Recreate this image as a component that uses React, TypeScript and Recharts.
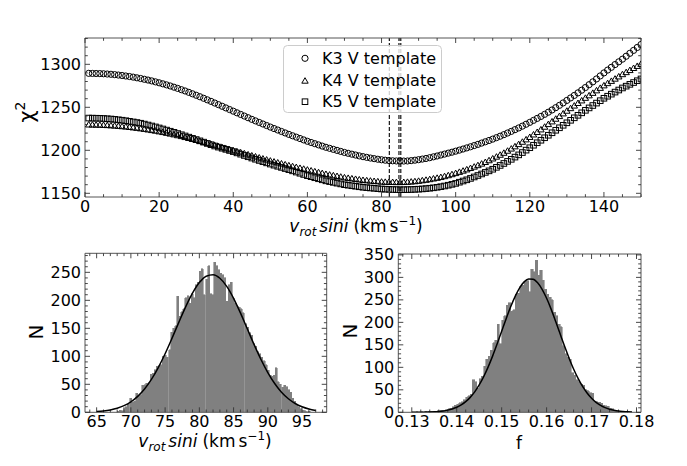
import React from "react";
import {
  ScatterChart,
  Scatter,
  BarChart,
  Bar,
  LineChart,
  Line,
  XAxis,
  YAxis,
  ReferenceLine,
} from "recharts";

const W = 687;
const H = 466;
const FONT = "DejaVu Sans, Verdana, sans-serif";
const INK = "#333";

// chi-square against v sin i, one point per km/s
const VSINI = Array.from({ length: 150 }, (_, i) => i + 1);
const CHI_K3 = [
  1289.5, 1289.4, 1289.3, 1289.2, 1289.0, 1288.7, 1288.4, 1288.0, 1287.5, 1287.0,
  1286.4, 1285.8, 1285.1, 1284.3, 1283.5, 1282.6, 1281.7, 1280.7, 1279.6, 1278.5,
  1277.3, 1276.1, 1274.8, 1273.4, 1272.0, 1270.5, 1269.0, 1267.4, 1265.7, 1264.0,
  1262.3, 1260.5, 1258.7, 1256.9, 1255.0, 1253.1, 1251.2, 1249.3, 1247.4, 1245.5,
  1243.6, 1241.7, 1239.8, 1237.9, 1236.0, 1234.2, 1232.4, 1230.6, 1228.8, 1227.0,
  1225.3, 1223.6, 1221.9, 1220.2, 1218.5, 1216.9, 1215.3, 1213.7, 1212.1, 1210.5,
  1209.1, 1207.7, 1206.3, 1204.9, 1203.5, 1202.3, 1201.1, 1199.9, 1198.7, 1197.5,
  1196.5, 1195.5, 1194.5, 1193.5, 1192.6, 1191.8, 1191.0, 1190.3, 1189.6, 1189.0,
  1188.5, 1188.1, 1187.8, 1187.6, 1187.5, 1187.5, 1187.6, 1188.0, 1188.5, 1189.1,
  1189.8, 1190.5, 1191.4, 1192.4, 1193.4, 1194.5, 1195.6, 1196.7, 1197.8, 1199.0,
  1200.2, 1201.5, 1202.8, 1204.1, 1205.5, 1206.9, 1208.4, 1209.9, 1211.4, 1213.0,
  1214.7, 1216.4, 1218.2, 1220.1, 1222.0, 1224.0, 1226.0, 1228.1, 1230.3, 1232.5,
  1234.8, 1237.1, 1239.4, 1241.8, 1244.3, 1246.9, 1249.6, 1252.3, 1255.1, 1258.0,
  1260.9, 1263.8, 1266.8, 1269.9, 1273.0, 1276.3, 1279.6, 1283.0, 1286.5, 1290.0,
  1293.3, 1296.5, 1299.7, 1302.9, 1306.0, 1309.4, 1312.8, 1316.2, 1319.6, 1323.0,
];
const CHI_K4 = [
  1230.0, 1229.9, 1229.8, 1229.7, 1229.5, 1229.3, 1229.0, 1228.7, 1228.4, 1228.0,
  1227.6, 1227.1, 1226.6, 1226.1, 1225.5, 1224.9, 1224.2, 1223.5, 1222.8, 1222.0,
  1221.2, 1220.3, 1219.4, 1218.5, 1217.5, 1216.5, 1215.4, 1214.3, 1213.2, 1212.0,
  1210.8, 1209.6, 1208.4, 1207.2, 1206.0, 1204.8, 1203.6, 1202.4, 1201.2, 1200.0,
  1198.8, 1197.6, 1196.4, 1195.2, 1194.0, 1192.8, 1191.6, 1190.4, 1189.2, 1188.0,
  1186.9, 1185.8, 1184.7, 1183.6, 1182.5, 1181.5, 1180.5, 1179.5, 1178.5, 1177.5,
  1176.5, 1175.5, 1174.5, 1173.5, 1172.5, 1171.7, 1170.9, 1170.1, 1169.3, 1168.5,
  1167.9, 1167.3, 1166.7, 1166.1, 1165.5, 1165.1, 1164.7, 1164.3, 1163.9, 1163.5,
  1163.3, 1163.2, 1163.1, 1163.0, 1163.0, 1163.1, 1163.3, 1163.6, 1164.0, 1164.5,
  1165.1, 1165.7, 1166.4, 1167.2, 1168.0, 1168.9, 1169.9, 1171.0, 1172.2, 1173.5,
  1174.9, 1176.3, 1177.8, 1179.4, 1181.0, 1182.7, 1184.5, 1186.4, 1188.4, 1190.5,
  1192.6, 1194.8, 1197.1, 1199.5, 1202.0, 1204.6, 1207.2, 1209.9, 1212.7, 1215.5,
  1218.4, 1221.3, 1224.3, 1227.4, 1230.5, 1233.6, 1236.7, 1239.8, 1242.9, 1246.0,
  1249.0, 1252.0, 1255.0, 1258.0, 1261.0, 1263.9, 1266.8, 1269.7, 1272.6, 1275.5,
  1278.1, 1280.7, 1283.3, 1285.9, 1288.5, 1290.9, 1293.3, 1295.7, 1298.1, 1300.5,
];
const CHI_K5 = [
  1237.5, 1237.4, 1237.3, 1237.2, 1237.0, 1236.7, 1236.4, 1236.0, 1235.5, 1235.0,
  1234.4, 1233.7, 1233.0, 1232.3, 1231.5, 1230.5, 1229.4, 1228.3, 1227.2, 1226.0,
  1224.8, 1223.5, 1222.2, 1220.9, 1219.5, 1218.1, 1216.7, 1215.3, 1213.9, 1212.5,
  1211.0, 1209.5, 1208.0, 1206.5, 1205.0, 1203.7, 1202.4, 1201.1, 1199.8, 1198.5,
  1197.0, 1195.5, 1194.0, 1192.5, 1191.0, 1189.6, 1188.2, 1186.8, 1185.4, 1184.0,
  1182.7, 1181.4, 1180.1, 1178.8, 1177.5, 1176.1, 1174.7, 1173.3, 1171.9, 1170.5,
  1169.3, 1168.1, 1166.9, 1165.7, 1164.5, 1163.6, 1162.7, 1161.8, 1160.9, 1160.0,
  1159.4, 1158.8, 1158.2, 1157.6, 1157.0, 1156.6, 1156.2, 1155.8, 1155.4, 1155.0,
  1154.8, 1154.6, 1154.4, 1154.3, 1154.2, 1154.2, 1154.3, 1154.4, 1154.6, 1154.8,
  1155.1, 1155.5, 1155.9, 1156.4, 1157.0, 1157.7, 1158.5, 1159.4, 1160.4, 1161.5,
  1162.9, 1164.3, 1165.7, 1167.3, 1169.0, 1170.7, 1172.5, 1174.3, 1176.1, 1178.0,
  1180.2, 1182.4, 1184.7, 1187.1, 1189.5, 1192.1, 1194.7, 1197.4, 1200.2, 1203.0,
  1205.9, 1208.8, 1211.7, 1214.6, 1217.5, 1220.4, 1223.3, 1226.2, 1229.1, 1232.0,
  1234.9, 1237.8, 1240.7, 1243.6, 1246.5, 1249.3, 1252.1, 1254.9, 1257.7, 1260.5,
  1262.9, 1265.3, 1267.7, 1270.1, 1272.5, 1274.6, 1276.7, 1278.8, 1280.9, 1283.0,
];
const BEST_VSINI = [82.1, 84.7, 85.2];
const TEMPLATES = ["K3 V template", "K4 V template", "K5 V template"];

const TOP_X_MAJOR = [0, 20, 40, 60, 80, 100, 120, 140];
const TOP_Y_MAJOR = [1150, 1200, 1250, 1300];

// v sin i histogram (bins of 0.3 km/s starting at 68.0) and gaussian fit
const V_BIN_START = 68.0;
const V_BIN_WIDTH = 0.3;
const V_COUNTS = [
  2, 4, 3, 8, 10, 14, 25, 18, 20, 34,
  30, 31, 48, 49, 52, 53, 68, 70, 76, 82,
  83, 85, 100, 102, 98, 112, 143, 150, 155, 207,
  172, 180, 185, 205, 208, 195, 212, 205, 228, 232,
  252, 256, 210, 238, 262, 212, 210, 268, 262, 255,
  248, 246, 240, 198, 228, 232, 205, 195, 190, 188,
  185, 178, 158, 152, 142, 138, 122, 118, 108, 105,
  98, 92, 85, 75, 66, 64, 66, 80, 55, 50,
  45, 48, 46, 40, 36, 25, 20, 14, 10, 6,
  4, 3, 1, 2,
];
const V_FIT_X = [
  65, 66, 67, 68, 69, 70, 71, 72, 73, 74, 75, 76, 77, 78, 79, 80, 81,
  82, 83, 84, 85, 86, 87, 88, 89, 90, 91, 92, 93, 94, 95, 96, 97,
];
const V_FIT = [
  1.3, 2.4, 4.3, 7.3, 11.9, 18.7, 28.5, 41.6, 58.7, 79.9, 104.6, 132.1, 160.7, 188.4, 212.8, 231.7, 243.1,
  245.8, 239.5, 224.9, 203.6, 177.5, 149.2, 120.8, 94.3, 70.9, 51.4, 35.9, 24.2, 15.7, 9.8, 5.9, 3.4,
];
const V_X_MAJOR = [65, 70, 75, 80, 85, 90, 95];
const V_Y_MAJOR = [0, 50, 100, 150, 200, 250];

// f histogram (bins of 0.0005 starting at 0.131) and gaussian fit
const F_BIN_START = 0.131;
const F_BIN_WIDTH = 0.0005;
const F_COUNTS = [
  1, 0, 1, 0, 1, 1, 2, 1, 2, 3,
  4, 5, 4, 6, 8, 9, 12, 16, 18, 21,
  24, 28, 33, 37, 40, 72, 68, 54, 75, 80,
  102, 118, 125, 138, 155, 160, 196, 152, 205, 215,
  238, 244, 225, 228, 262, 265, 280, 282, 290, 292,
  268, 318, 312, 338, 305, 316, 294, 274, 262, 256,
  250, 222, 215, 196, 190, 148, 130, 122, 118, 88,
  82, 72, 68, 62, 60, 50, 48, 44, 42, 25,
  23, 22, 20, 16, 15, 14, 9, 8, 4, 2,
];
const F_FIT_X = [
  0.13, 0.131, 0.132, 0.133, 0.134, 0.135, 0.136, 0.137, 0.138, 0.139,
  0.14, 0.141, 0.142, 0.143, 0.144, 0.145, 0.146, 0.147, 0.148, 0.149,
  0.15, 0.151, 0.152, 0.153, 0.154, 0.155, 0.156, 0.157, 0.158, 0.159,
  0.16, 0.161, 0.162, 0.163, 0.164, 0.165, 0.166, 0.167, 0.168, 0.169,
  0.17, 0.171, 0.172, 0.173, 0.174, 0.175, 0.176, 0.177, 0.178, 0.179,
];
const F_FIT = [
  0.1, 0.1, 0.2, 0.4, 0.7, 1.1, 1.8, 3.0, 4.8, 7.4,
  11.1, 16.4, 23.6, 33.2, 45.4, 60.8, 79.3, 101.0, 125.5, 152.2,
  180.1, 208.1, 234.5, 257.9, 276.8, 290.0, 296.4, 295.7, 287.9, 273.5,
  253.5, 229.4, 202.5, 174.5, 146.7, 120.4, 96.4, 75.4, 57.5, 42.8,
  31.1, 22.0, 15.2, 10.3, 6.8, 4.4, 2.7, 1.7, 1.0, 0.6,
];
const F_X_MAJOR = [0.13, 0.14, 0.15, 0.16, 0.17, 0.18];
const F_Y_MAJOR = [0, 50, 100, 150, 200, 250, 300, 350];

// majors plus minor subdivisions
const tickRange = (lo: number, hi: number, step: number) => {
  const out: number[] = [];
  const n = Math.round((hi - lo) / step);
  for (let i = 0; i <= n; i++) out.push(+(lo + i * step).toFixed(6));
  return out;
};

type Side = "bottom" | "top" | "left" | "right";

const tickFactory = (side: Side, majors: number[], fmt?: (v: number) => string) =>
  function TickMark(props: any) {
    const { x, y, payload } = props;
    const v = Number(payload.value);
    const major = majors.some((m) => Math.abs(m - v) < 1e-7);
    const len = major ? 5 : 2.8;
    let x2 = x;
    let y2 = y;
    if (side === "bottom") y2 = y - len;
    if (side === "top") y2 = y + len;
    if (side === "left") x2 = x + len;
    if (side === "right") x2 = x - len;
    return (
      <g>
        <line x1={x} y1={y} x2={x2} y2={y2} stroke={INK} strokeWidth={0.9} />
        {fmt && major && side === "bottom" && (
          <text x={x} y={y + 15} textAnchor="middle" fontSize={16} fontFamily={FONT} fill="#000">
            {fmt(v)}
          </text>
        )}
        {fmt && major && side === "left" && (
          <text x={x - 4} y={y + 5.6} textAnchor="end" fontSize={16} fontFamily={FONT} fill="#000">
            {fmt(v)}
          </text>
        )}
      </g>
    );
  };

const AXIS_LINE = { stroke: "#555", strokeWidth: 1 };
const box: React.CSSProperties = { position: "absolute", left: 0, top: 0 };

const Circle = (p: any) => (
  <circle cx={p.cx} cy={p.cy} r={3.1} fill="none" stroke="#000" strokeWidth={1} />
);
const Triangle = (p: any) => (
  <polygon
    points={`${p.cx},${p.cy - 3} ${p.cx - 3.2},${p.cy + 2.5} ${p.cx + 3.2},${p.cy + 2.5}`}
    fill="none"
    stroke="#000"
    strokeWidth={1}
  />
);
const Square = (p: any) => (
  <rect x={p.cx - 2.8} y={p.cy - 2.8} width={5.6} height={5.6} fill="none" stroke="#000" strokeWidth={1} />
);
const SHAPES = [Circle, Triangle, Square];

const k3 = VSINI.map((v, i) => ({ v, chi: CHI_K3[i] }));
const k4 = VSINI.map((v, i) => ({ v, chi: CHI_K4[i] }));
const k5 = VSINI.map((v, i) => ({ v, chi: CHI_K5[i] }));

const vBins = V_COUNTS.map((n, i) => ({ x: V_BIN_START + (i + 0.5) * V_BIN_WIDTH, n }));
const vFit = V_FIT_X.map((x, i) => ({ x, g: V_FIT[i] }));
const fBins = F_COUNTS.map((n, i) => ({ x: F_BIN_START + (i + 0.5) * F_BIN_WIDTH, n }));
const fFit = F_FIT_X.map((x, i) => ({ x, g: F_FIT[i] }));

// plot boxes: top 85..641 x 38..197, left hist 85..326.7 x 253.3..412.3, right hist 398.3..641 x 254..412.3
// each axis takes 1px, so margins sit 1px outside the plot box
const TOP_MARGIN = { top: 37, right: 45, bottom: 268, left: 84 };
const VL_MARGIN = { top: 252.3, right: 359.3, bottom: 52.7, left: 84 };
const FR_MARGIN = { top: 253, right: 45, bottom: 52.7, left: 397.3 };
const VL_PLOT = { top: 253.3, right: 360.3, bottom: 53.7, left: 85 };
const FR_PLOT = { top: 254, right: 46, bottom: 53.7, left: 398.3 };
const V_DOMAIN: [number, number] = [63.3, 98.6];
const F_DOMAIN: [number, number] = [0.127, 0.181];

const axes = (
  id: string,
  xDomain: [number, number],
  yDomain: [number, number],
  xTicks: number[],
  yTicks: number[],
  xMajor: number[],
  yMajor: number[],
  xFmt: (v: number) => string,
  xKey: string,
  yKey?: string
) => [
  <XAxis
    key={id + "xb"}
    xAxisId={0}
    dataKey={xKey}
    type="number"
    domain={xDomain}
    allowDataOverflow
    ticks={xTicks}
    interval={0}
    height={1}
    tickSize={0}
    tickMargin={0}
    tickLine={false}
    axisLine={AXIS_LINE}
    tick={tickFactory("bottom", xMajor, xFmt)}
  />,
  <XAxis
    key={id + "xt"}
    xAxisId="top"
    orientation="top"
    dataKey={xKey}
    type="number"
    domain={xDomain}
    allowDataOverflow
    ticks={xTicks}
    interval={0}
    height={1}
    tickSize={0}
    tickMargin={0}
    tickLine={false}
    axisLine={AXIS_LINE}
    tick={tickFactory("top", xMajor)}
  />,
  <YAxis
    key={id + "yl"}
    yAxisId={0}
    dataKey={yKey}
    type="number"
    domain={yDomain}
    allowDataOverflow
    ticks={yTicks}
    interval={0}
    width={1}
    tickSize={0}
    tickMargin={0}
    tickLine={false}
    axisLine={AXIS_LINE}
    tick={tickFactory("left", yMajor, String)}
  />,
  <YAxis
    key={id + "yr"}
    yAxisId="right"
    orientation="right"
    dataKey={yKey}
    type="number"
    domain={yDomain}
    allowDataOverflow
    ticks={yTicks}
    interval={0}
    width={1}
    tickSize={0}
    tickMargin={0}
    tickLine={false}
    axisLine={AXIS_LINE}
    tick={tickFactory("right", yMajor)}
  />,
];

const XLabel = ({ x, y }: { x: number; y: number }) => (
  <text x={x} y={y} textAnchor="middle" fontSize={17}>
    <tspan fontStyle="italic">v</tspan>
    <tspan fontStyle="italic" fontSize={12} dy={4}>rot</tspan>
    <tspan fontStyle="italic" dy={-4} dx={3}>sini</tspan>
    <tspan dx={5}>(km</tspan>
    <tspan dx={3}>s</tspan>
    <tspan fontSize={12} dy={-7}>−1</tspan>
    <tspan dy={7}>)</tspan>
  </text>
);

export default function App() {
  const topX = tickRange(0, 150, 5);
  const topY = tickRange(1150, 1330, 10);
  const vX = tickRange(64, 98, 1);
  const vY = tickRange(0, 280, 10);
  const fX = tickRange(0.128, 0.18, 0.002);
  const fY = tickRange(0, 350, 10);

  return (
    <div style={{ position: "absolute", left: 0, top: 0, width: W, height: H, background: "#fff", fontFamily: FONT }}>
      <div style={box}>
        <ScatterChart width={W} height={H} margin={TOP_MARGIN}>
          {axes("top", [0, 150], [1145.7, 1330.6], topX, topY, TOP_X_MAJOR, TOP_Y_MAJOR, String, "v", "chi")}
          {BEST_VSINI.map((v) => (
            <ReferenceLine key={v} x={v} stroke="#000" strokeWidth={1.1} strokeDasharray="4 2" />
          ))}
          <Scatter data={k3} shape={Circle} isAnimationActive={false} />
          <Scatter data={k4} shape={Triangle} isAnimationActive={false} />
          <Scatter data={k5} shape={Square} isAnimationActive={false} />
        </ScatterChart>
      </div>

      <div style={box}>
        <BarChart width={W} height={H} margin={VL_MARGIN} data={vBins}>
          {axes("vl", V_DOMAIN, [0, 284], vX, vY, V_X_MAJOR, V_Y_MAJOR, String, "x", "n")}
          <Bar
            dataKey="n"
            fill="#808080"
            stroke="#808080"
            strokeWidth={0.6}
            shapeRendering="crispEdges"
            barSize={2}
            isAnimationActive={false}
          />
        </BarChart>
      </div>
      <div style={box}>
        <LineChart width={W} height={H} margin={VL_PLOT} data={vFit}>
          <XAxis dataKey="x" type="number" domain={V_DOMAIN} allowDataOverflow hide />
          <YAxis type="number" domain={[0, 284]} allowDataOverflow hide />
          <Line dataKey="g" type="monotone" stroke="#000" strokeWidth={1.5} dot={false} isAnimationActive={false} />
        </LineChart>
      </div>

      <div style={box}>
        <BarChart width={W} height={H} margin={FR_MARGIN} data={fBins}>
          {axes("fr", F_DOMAIN, [0, 352], fX, fY, F_X_MAJOR, F_Y_MAJOR, (v) => v.toFixed(2), "x", "n")}
          <Bar
            dataKey="n"
            fill="#808080"
            stroke="#808080"
            strokeWidth={0.6}
            shapeRendering="crispEdges"
            barSize={2.2}
            isAnimationActive={false}
          />
        </BarChart>
      </div>
      <div style={box}>
        <LineChart width={W} height={H} margin={FR_PLOT} data={fFit}>
          <XAxis dataKey="x" type="number" domain={F_DOMAIN} allowDataOverflow hide />
          <YAxis type="number" domain={[0, 352]} allowDataOverflow hide />
          <Line dataKey="g" type="monotone" stroke="#000" strokeWidth={1.5} dot={false} isAnimationActive={false} />
        </LineChart>
      </div>

      <svg width={W} height={H} style={{ ...box, pointerEvents: "none" }} fontFamily={FONT}>
        <rect x={283.5} y={45.5} width={158} height={67} rx={4} fill="#fff" fillOpacity={0.8} stroke="#cccccc" />
        {TEMPLATES.map((name, i) => {
          const cy = [58.3, 80.7, 101.7][i];
          const Shape = SHAPES[i];
          return (
            <g key={name}>
              <Shape cx={305} cy={cy} />
              <text x={322} y={cy + 5.6} fontSize={16}>
                {name}
              </text>
            </g>
          );
        })}
        <text transform="translate(34,112) rotate(-90)" textAnchor="middle" fontSize={21}>
          χ<tspan fontSize={14} dy={-9}>2</tspan>
        </text>
        <XLabel x={356} y={232} />
        <text transform="translate(43,332) rotate(-90)" textAnchor="middle" fontSize={20}>
          N
        </text>
        <XLabel x={205} y={447} />
        <text transform="translate(357,331) rotate(-90)" textAnchor="middle" fontSize={20}>
          N
        </text>
        <text x={519} y={449} textAnchor="middle" fontSize={17}>
          f
        </text>
      </svg>
    </div>
  );
}
